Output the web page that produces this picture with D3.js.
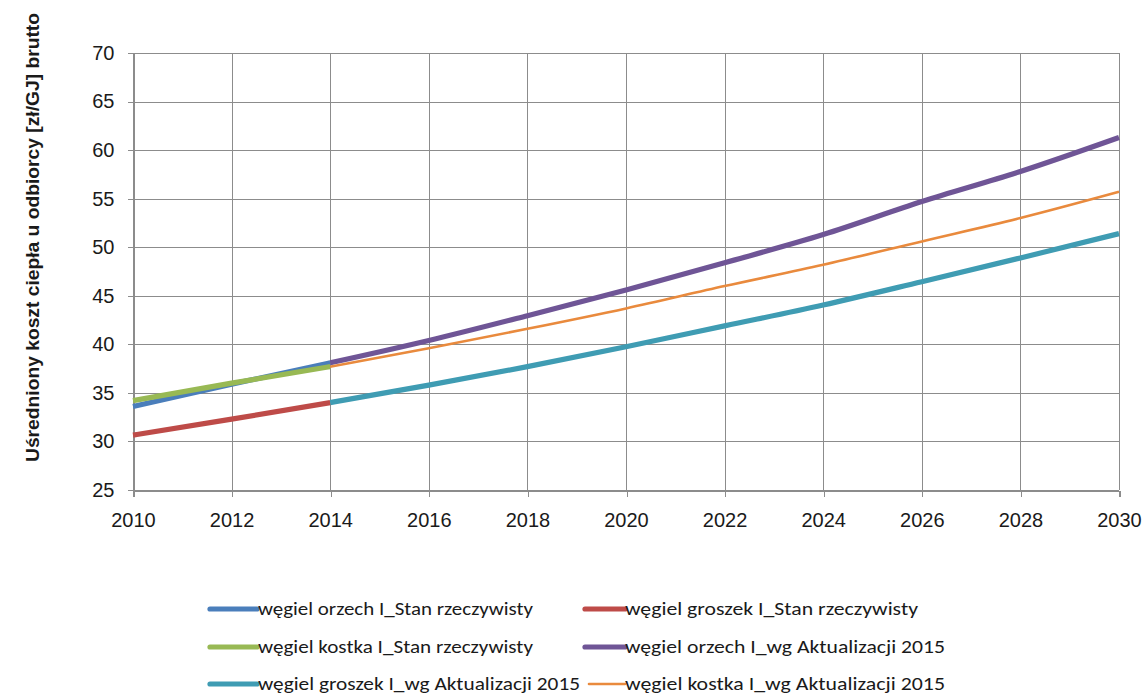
<!DOCTYPE html>
<html lang="pl">
<head>
<meta charset="utf-8">
<title>Uśredniony koszt ciepła u odbiorcy</title>
<script src="https://cdn.jsdelivr.net/npm/d3@7/dist/d3.min.js"></script>
<style>
  html, body { margin: 0; padding: 0; background: #fff; }
  svg { display: block; }
</style>
</head>
<body>
<svg id="chart" width="1146" height="696"></svg>
<script>
// Years for the historical state (2010–2014) and the 2015 update forecast (2014–2030)
const yearsStan = [2010, 2012, 2014];
const yearsAkt = [2014, 2016, 2018, 2020, 2022, 2024, 2026, 2028, 2030];

// Average heat cost for the customer [zł/GJ] gross
const orzechStan  = [33.6, 35.9, 38.1];
const groszekStan = [30.65, 32.3, 34.0];
const kostkaStan  = [34.2, 36.0, 37.7];
const orzechAkt   = [38.1, 40.4, 42.95, 45.6, 48.4, 51.3, 54.7, 57.8, 61.3];
const groszekAkt  = [34.0, 35.8, 37.7, 39.75, 41.9, 44.05, 46.45, 48.9, 51.4];
const kostkaAkt   = [37.7, 39.6, 41.6, 43.7, 46.0, 48.2, 50.6, 53.0, 55.7];

const seriesNames = [
  "węgiel orzech I_Stan rzeczywisty",
  "węgiel groszek I_Stan rzeczywisty",
  "węgiel kostka I_Stan rzeczywisty",
  "węgiel orzech I_wg Aktualizacji 2015",
  "węgiel groszek I_wg Aktualizacji 2015",
  "węgiel kostka I_wg Aktualizacji 2015"
];

const xTicks = [2010, 2012, 2014, 2016, 2018, 2020, 2022, 2024, 2026, 2028, 2030];
const yTicks = [25, 30, 35, 40, 45, 50, 55, 60, 65, 70];
const yTitle = "Uśredniony koszt ciepła u odbiorcy [zł/GJ] brutto";

// Styling for each series, in drawing order
const seriesColors = ["#4a7ebb", "#be4b48", "#98b954", "#6f5596", "#3f9cb3", "#e98a3d"];
const seriesWidths = [5.2, 5.2, 5.2, 5.2, 5.2, 2.6];

const seriesData = [
  [yearsStan, orzechStan],
  [yearsStan, groszekStan],
  [yearsStan, kostkaStan],
  [yearsAkt, orzechAkt],
  [yearsAkt, groszekAkt],
  [yearsAkt, kostkaAkt]
].map(([xs, ys]) => xs.map((yr, i) => ({ year: yr, value: ys[i] })));

const svg = d3.select("#chart");
const plot = { left: 133, right: 1119, top: 53, bottom: 490 };

const x = d3.scaleLinear().domain([2010, 2030]).range([plot.left, plot.right]);
const y = d3.scaleLinear().domain([25, 70]).range([plot.bottom, plot.top]);

const gridColor = "#8c8c8c";
const axisFont = "'Liberation Sans', Arial, sans-serif";

// Gridlines
const grid = svg.append("g").attr("shape-rendering", "crispEdges");
grid.selectAll("line.h").data(yTicks).join("line")
  .attr("x1", plot.left).attr("x2", plot.right)
  .attr("y1", d => Math.round(y(d)) + 0.5).attr("y2", d => Math.round(y(d)) + 0.5)
  .attr("stroke", gridColor).attr("stroke-width", 1);
grid.selectAll("line.v").data(xTicks).join("line")
  .attr("x1", d => Math.round(x(d)) + 0.5).attr("x2", d => Math.round(x(d)) + 0.5)
  .attr("y1", plot.top).attr("y2", plot.bottom)
  .attr("stroke", gridColor).attr("stroke-width", 1);

// Axes
const xAxis = svg.append("g")
  .attr("transform", `translate(0,${Math.round(plot.bottom) + 0.5})`)
  .call(d3.axisBottom(x).tickValues(xTicks).tickFormat(d3.format("d")).tickSize(6).tickPadding(16));
const yAxis = svg.append("g")
  .attr("transform", `translate(${Math.round(plot.left) + 0.5},0)`)
  .call(d3.axisLeft(y).tickValues(yTicks).tickSize(6).tickPadding(13));

[xAxis, yAxis].forEach(g => {
  g.selectAll("path, line").attr("stroke", gridColor).attr("shape-rendering", "crispEdges");
  g.selectAll("text").attr("fill", "#1a1a1a").style("font-family", axisFont).style("font-size", "20px");
});
xAxis.selectAll(".tick line").attr("transform", "translate(0.5,0)");

// Y-axis title
svg.append("text")
  .attr("transform", `translate(39,${(13 + 462) / 2}) rotate(-90)`)
  .attr("text-anchor", "middle")
  .style("font-family", axisFont)
  .style("font-size", "18px")
  .style("font-weight", "bold")
  .attr("fill", "#1a1a1a")
  .attr("textLength", 449)
  .attr("lengthAdjust", "spacingAndGlyphs")
  .text(yTitle);

// Series lines
const line = d3.line().x(d => x(d.year)).y(d => y(d.value)).curve(d3.curveMonotoneX);
svg.append("g").selectAll("path").data(seriesData).join("path")
  .attr("d", line)
  .attr("fill", "none")
  .attr("stroke", (d, i) => seriesColors[i])
  .attr("stroke-width", (d, i) => seriesWidths[i])
  .attr("stroke-linecap", "butt")
  .attr("stroke-linejoin", "round");

// Legend: two columns, three rows
const legendCols = [210, 585];
const legendRows = [609, 647, 684];
const legendTextWidths = [275, 293, 275, 320, 322, 320];
const legend = svg.append("g");
seriesNames.forEach((name, i) => {
  const cx = legendCols[i % 2];
  const cy = legendRows[Math.floor(i / 2)];
  const g = legend.append("g").attr("transform", `translate(${cx},${cy})`);
  g.append("line")
    .attr("x1", i === 5 ? 4 : 0).attr("x2", i % 2 ? 40 : 47)
    .attr("y1", 0).attr("y2", 0)
    .attr("stroke", seriesColors[i])
    .attr("stroke-width", seriesWidths[i])
    .attr("stroke-linecap", "round");
  g.append("text")
    .attr("x", i % 2 ? 40 : 48)
    .attr("y", 6)
    .style("font-family", "Carlito, 'Liberation Sans Narrow', 'Liberation Sans', sans-serif")
    .style("font-size", "18.5px")
    .attr("fill", "#1a1a1a")
    .attr("textLength", legendTextWidths[i])
    .attr("lengthAdjust", "spacingAndGlyphs")
    .text(name);
});
</script>
</body>
</html>
